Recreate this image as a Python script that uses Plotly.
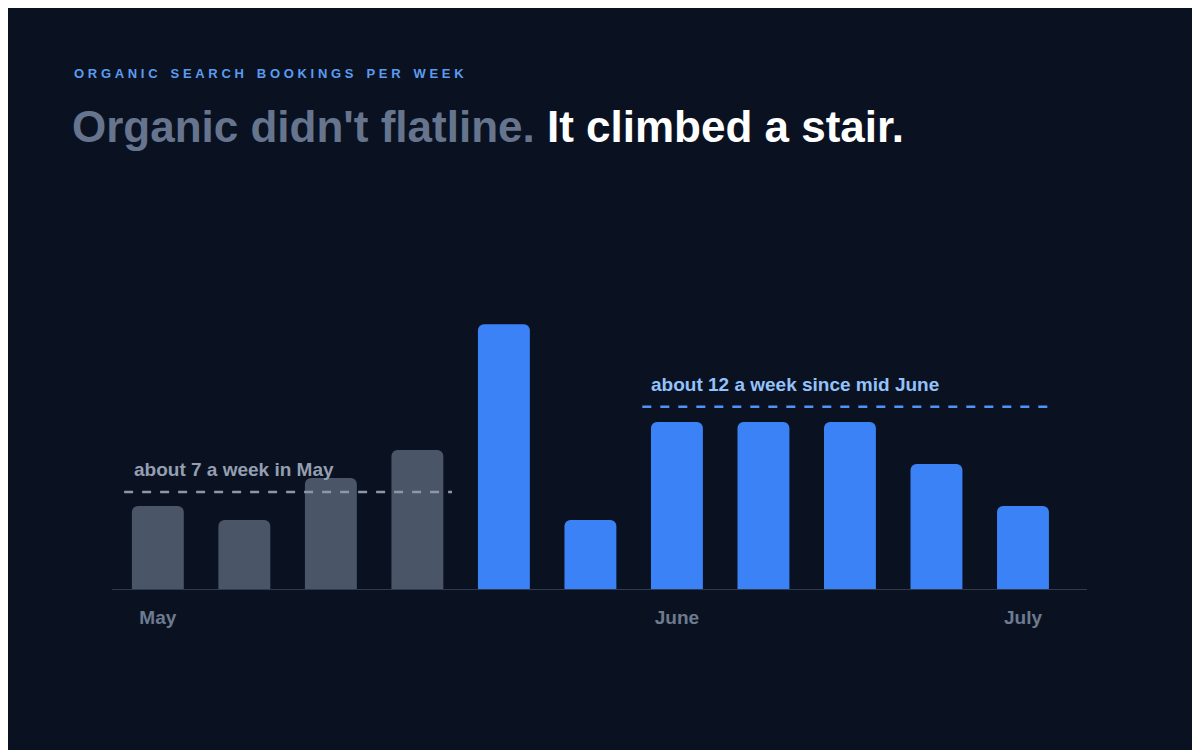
import plotly.graph_objects as go

# weekly organic search bookings
weeks = list(range(11))
bookings = [6, 5, 8, 10, 19, 5, 12, 12, 12, 9, 6]
tick_pos = [0, 6, 10]
tick_text = ["<b>May</b>", "<b>June</b>", "<b>July</b>"]

may_level = 7
june_level = 13.1  # line sits just above the ~12 bars

gray = "#4a5567"
blue = "#3b82f6"
colors = [gray] * 4 + [blue] * 7

font = "Liberation Sans, Arial, sans-serif"

# browser page offsets the plot by 8px; compensate in the margins
off = 8

fig = go.Figure(
    go.Bar(
        x=weeks,
        y=bookings,
        marker=dict(color=colors, cornerradius=6, line=dict(width=0)),
        width=0.6,
        hoverinfo="skip",
    )
)

# Dashed reference lines
fig.add_shape(
    type="line", x0=-0.39, x1=3.4, y0=may_level, y1=may_level,
    line=dict(color="#8d97a6", width=2.5, dash="dash"),
)
fig.add_shape(
    type="line", x0=5.6, x1=10.34, y0=june_level, y1=june_level,
    line=dict(color="#4f93f5", width=2.5, dash="dash"),
)
# Baseline
fig.add_shape(
    type="line", x0=-0.53, x1=10.74, y0=0, y1=0,
    line=dict(color="#2e3a4d", width=2),
)

spaced = "\u2003".join("\u2009\u200a".join(w) for w in "ORGANIC SEARCH BOOKINGS PER WEEK".split())

fig.update_xaxes(
    range=[-0.53, 10.74], tickvals=tick_pos, ticktext=tick_text,
    showgrid=False, zeroline=False, showline=False, ticks="",
    tickfont=dict(family=font, size=19, color="#6e7b8f"),
)
fig.update_yaxes(range=[0, 24.3], visible=False)

fig.update_layout(
    width=1200, height=750,
    margin=dict(l=112 - off, r=113 + off, t=250 - off, b=160 + off, autoexpand=False),
    paper_bgcolor="#0a1222", plot_bgcolor="rgba(0,0,0,0)",
    showlegend=False,
    font=dict(family=font),
    annotations=[
        dict(
            x=-0.3, y=may_level, yshift=10, xanchor="left", yanchor="bottom",
            text="<b>about 7 a week in May</b>", showarrow=False,
            font=dict(family=font, size=19, color="#949fb0"),
        ),
        dict(
            x=5.68, y=june_level, yshift=10, xanchor="left", yanchor="bottom",
            text="<b>about 12 a week since mid June</b>", showarrow=False,
            font=dict(family=font, size=19, color="#93c2fb"),
        ),
        dict(
            xref="paper", yref="paper", x=-40 / 975, y=1 + 177 / 340,
            xanchor="left", yanchor="middle", showarrow=False,
            text="<b>" + spaced + "</b>",
            font=dict(family=font, size=13, color="#5b9cf0"),
        ),
        dict(
            xref="paper", yref="paper", x=-42 / 975, y=1 + 123 / 340,
            xanchor="left", yanchor="middle", showarrow=False,
            text="<b><span style='color:#66758d'>Organic didn't flatline.</span> It climbed a stair.</b>",
            font=dict(family=font, size=44, color="#ffffff"),
        ),
    ],
    xaxis_ticklabelstandoff=14,
)

fig.write_html("out.html")
